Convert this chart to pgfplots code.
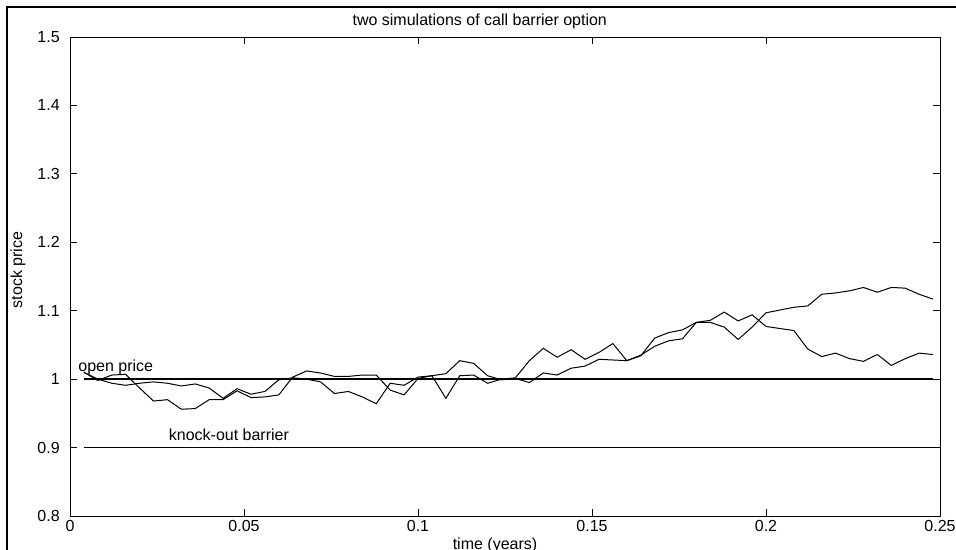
\documentclass[border=0pt]{standalone}
\usepackage{fontspec}
\setmainfont{Liberation Sans}
\usepackage{pgfplots}
\pgfplotsset{compat=1.18}

\begin{document}
\fontsize{8}{9.6}\selectfont
\begin{tikzpicture}
\begin{axis}[
    at={(0,0)}, anchor=south west,
    scale only axis,
    width=435pt, height=239.5pt,
    xmin=0, xmax=0.25,
    ymin=0.8, ymax=1.5,
    xtick={0,0.05,0.1,0.15,0.2,0.25},
    ytick={0.8,0.9,1,1.1,1.2,1.3,1.4,1.5},
    /pgf/number format/assume math mode=true,
    /pgf/number format/fixed,
    tick align=inside,
    major tick length=3.5pt,
    axis line style={black, line width=0.5pt},
    every tick/.style={black, line width=0.5pt},
    yticklabel style={xshift=-2.3pt},
    xticklabel style={yshift=0.6pt},
    title={two simulations of call barrier option},
    every axis title/.style={at={(axis description cs:0.471,1.0334)}, anchor=center},
    xlabel={time (years)},
    xlabel style={at={(axis description cs:0.4885,-0.0605)}, anchor=center},
    ylabel={stock price},
    ylabel style={at={(axis description cs:-0.0598,0.5136)}, anchor=center},
    clip=false,
]
% open price and barrier
\addplot[black, line width=0.8pt] coordinates {(0.004,1)(0.248,1)};
\addplot[black, line width=0.5pt] coordinates {(0.004,0.9)(0.248,0.9)};

% simulation 1
\addplot[black, line width=0.5pt] coordinates {
(0.004,1.010)(0.008,0.998)(0.012,1.006)(0.016,1.007)(0.020,0.987)
(0.024,0.968)(0.028,0.970)(0.032,0.956)(0.036,0.957)(0.040,0.970)
(0.044,0.970)(0.048,0.983)(0.052,0.973)(0.056,0.974)(0.060,0.977)
(0.064,1.003)(0.068,1.012)(0.072,1.009)(0.076,1.004)(0.080,1.004)
(0.084,1.006)(0.088,1.006)(0.092,0.984)(0.096,0.977)(0.100,1.001)
(0.104,1.005)(0.108,1.008)(0.112,1.027)(0.116,1.023)(0.120,1.005)
(0.124,0.999)(0.128,1.001)(0.132,0.995)(0.136,1.009)(0.140,1.006)
(0.144,1.016)(0.148,1.019)(0.152,1.029)(0.156,1.028)(0.160,1.027)
(0.164,1.035)(0.168,1.048)(0.172,1.056)(0.176,1.059)(0.180,1.083)
(0.184,1.083)(0.188,1.076)(0.192,1.058)(0.196,1.076)(0.200,1.097)
(0.204,1.101)(0.208,1.105)(0.212,1.107)(0.216,1.124)(0.220,1.126)
(0.224,1.129)(0.228,1.134)(0.232,1.127)(0.236,1.134)(0.240,1.133)
(0.244,1.124)(0.248,1.117)
};

% simulation 2
\addplot[black, line width=0.5pt] coordinates {
(0.004,1.010)(0.008,1.000)(0.012,0.994)(0.016,0.991)(0.020,0.994)
(0.024,0.996)(0.028,0.994)(0.032,0.990)(0.036,0.993)(0.040,0.987)
(0.044,0.972)(0.048,0.986)(0.052,0.978)(0.056,0.982)(0.060,0.999)
(0.064,1.002)(0.068,1.000)(0.072,0.996)(0.076,0.979)(0.080,0.982)
(0.084,0.974)(0.088,0.964)(0.092,0.994)(0.096,0.991)(0.100,1.003)
(0.104,1.005)(0.108,0.972)(0.112,1.005)(0.116,1.006)(0.120,0.994)
(0.124,1.000)(0.128,1.002)(0.132,1.027)(0.136,1.045)(0.140,1.032)
(0.144,1.043)(0.148,1.029)(0.152,1.039)(0.156,1.052)(0.160,1.027)
(0.164,1.034)(0.168,1.060)(0.172,1.068)(0.176,1.072)(0.180,1.083)
(0.184,1.086)(0.188,1.098)(0.192,1.085)(0.196,1.094)(0.200,1.077)
(0.204,1.074)(0.208,1.071)(0.212,1.044)(0.216,1.033)(0.220,1.038)
(0.224,1.030)(0.228,1.026)(0.232,1.036)(0.236,1.020)(0.240,1.030)
(0.244,1.038)(0.248,1.036)
};

\node[anchor=base west, inner sep=0pt] at (axis cs:0.0023,1.011) {open price};
\node[anchor=base west, inner sep=0pt] at (axis cs:0.0283,0.911) {knock-out barrier};
\end{axis}
% outer figure frame (only left and top edges fall inside the picture)
\draw[black, line width=1pt] (-31.5pt,-30pt) -- (-31.5pt,254.5pt) -- (470pt,254.5pt);
\pgfresetboundingbox
\useasboundingbox (-35pt,-17pt) rectangle (443pt,258pt);
\end{tikzpicture}
\end{document}
